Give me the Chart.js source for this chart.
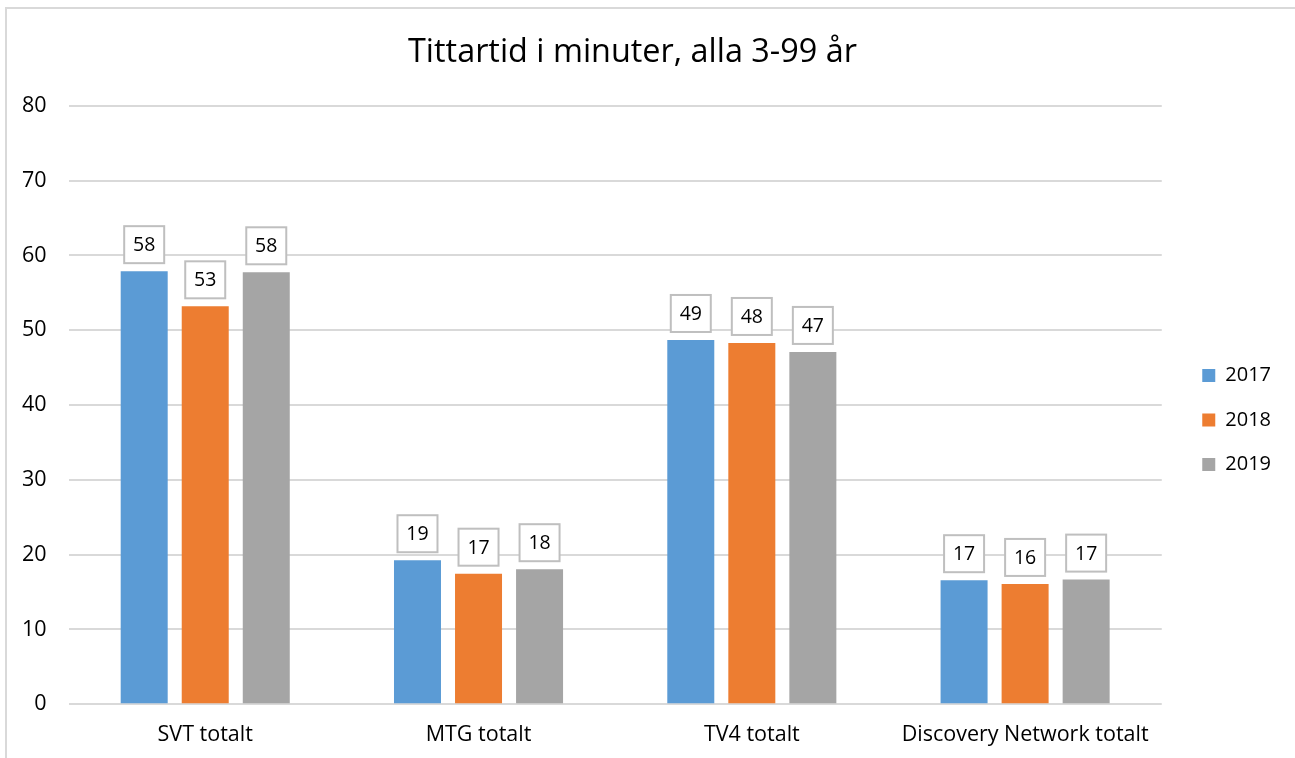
<!DOCTYPE html>
<html>
<head>
<meta charset="utf-8">
<script src="https://cdn.jsdelivr.net/npm/chart.js@4/dist/chart.umd.min.js"></script>
<style>
  html, body { margin: 0; padding: 0; background: #fff; }
  #frame { position: absolute; left: 5px; top: 7px; width: 1400px; height: 900px; border-left: 2px solid #d9d9d9; border-top: 2px solid #d9d9d9; }
  #wrap { position: absolute; left: 0; top: 0; width: 1295px; height: 758px; }
</style>
</head>
<body>
<div id="frame"></div>
<div id="wrap"><canvas id="c" width="1295" height="758"></canvas></div>
<script>
const categories = ["SVT totalt", "MTG totalt", "TV4 totalt", "Discovery Network totalt"];
const seriesNames = ["2017", "2018", "2019"];
const values2017 = [57.9, 19.25, 48.7, 16.58];
const values2018 = [53.2, 17.45, 48.3, 16.08];
const values2019 = [57.75, 18.05, 47.1, 16.66];
const colors = ["#5B9BD5", "#ED7D31", "#A5A5A5"];
const yTicks = [0, 10, 20, 30, 40, 50, 60, 70, 80];
const titleText = "Tittartid i minuter, alla 3-99 år";

const FONT = "'Open Sans', sans-serif";

const boxLabels = {
  id: 'boxLabels',
  afterDatasetsDraw(chart) {
    const ctx = chart.ctx;
    ctx.save();
    ctx.font = "19.5px " + FONT;
    ctx.textAlign = "center";
    ctx.textBaseline = "middle";
    chart.data.datasets.forEach((ds, di) => {
      const meta = chart.getDatasetMeta(di);
      meta.data.forEach((bar, i) => {
        const txt = String(Math.round(ds.data[i]));
        const w = 40, h = 37;
        const x = bar.x - w / 2;
        const y = bar.y - 8 - h;
        ctx.fillStyle = "#ffffff";
        ctx.fillRect(x, y, w, h);
        ctx.strokeStyle = "#bfbfbf";
        ctx.lineWidth = 2;
        ctx.strokeRect(x, y, w, h);
        ctx.fillStyle = "#000000";
        ctx.fillText(txt, bar.x, y + h / 2 + 1);
      });
    });
    ctx.restore();
  }
};

const legendShift = {
  id: 'legendShift',
  afterLayout(chart) {
    const l = chart.legend;
    if (!l) return;
    const dx = 16, dy = 41;
    l.left += dx; l.right += dx;
    l.top += dy; l.bottom += dy;
  }
};

const data = {
  labels: categories,
  datasets: [values2017, values2018, values2019].map((v, i) => ({
    label: seriesNames[i],
    data: v,
    backgroundColor: colors[i],
    borderWidth: 0,
    categoryPercentage: 0.67,
    barPercentage: 0.77
  }))
};

new Chart(document.getElementById('c'), {
  type: 'bar',
  data,
  plugins: [boxLabels, legendShift],
  options: {
    responsive: false,
    animation: false,
    layout: { padding: { left: 0, right: 30, top: 0, bottom: 0 } },
    plugins: {
      title: {
        display: true,
        text: titleText,
        color: "#000",
        font: { family: FONT, size: 32.4, weight: 'normal' },
        padding: { top: 33, bottom: 34 }
      },
      legend: {
        position: 'right',
        align: 'center',
        labels: {
          boxWidth: 13,
          boxHeight: 13,
          padding: 24.5,
          color: "#000",
          font: { family: FONT, size: 20 }
        }
      },
      tooltip: { enabled: false }
    },
    scales: {
      x: {
        grid: { display: false },
        border: { display: false },
        ticks: { color: "#000", font: { family: FONT, size: 21.5 }, padding: 10 }
      },
      y: {
        min: 0,
        max: 80,
        afterBuildTicks(scale) { scale.ticks = yTicks.map(v => ({ value: v })); },
        grid: { color: "#d9d9d9", lineWidth: 2, drawTicks: false },
        border: { display: false },
        ticks: { color: "#000", font: { family: FONT, size: 21.5 }, padding: 22 }
      }
    }
  }
});
</script>
</body>
</html>
